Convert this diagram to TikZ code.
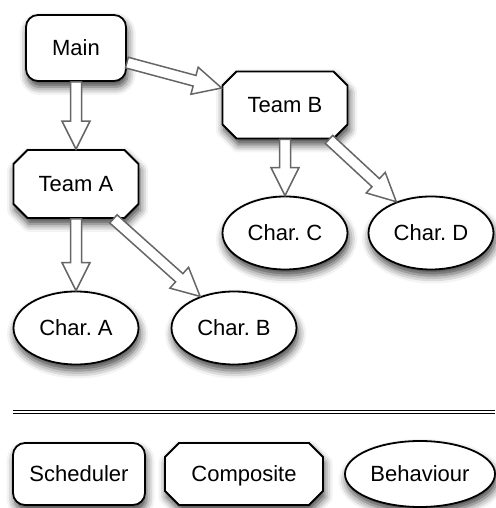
\documentclass[tikz,border=0pt]{standalone}
\usepackage{fontspec}
\setmainfont{Liberation Sans}
\frenchspacing
\usetikzlibrary{positioning, calc, shapes.misc, shapes.geometric, shadows.blur}
\tikzset{
	every node/.style={font=\fontsize{11}{13}\selectfont, draw, line width=0.9pt, fill=white,
		text height=8pt, text depth=0.5pt,
		blur shadow={shadow xshift=0.8pt, shadow yshift=-3pt, shadow blur radius=4pt, shadow opacity=75}},
	sched/.style={rectangle, rounded corners=6pt}, % scheduler nodes
	comp/.style={chamfered rectangle, chamfered rectangle xsep=3.5pt, chamfered rectangle ysep=3.5pt}, % composite nodes
	behav/.style={ellipse, inner sep=0pt, minimum width=62.5pt, minimum height=36.5pt}, % behaviour nodes
	node distance=70pt, % overridden where the gap differs
	% hollow block arrow between two border points
	hollow/.style={draw=black!60, line width=0.75pt, fill=white,
		to path={
			($(\tikztotarget)!14pt!(\tikztostart)$) coordinate (hb)
			($(\tikztostart)!2.75pt!90:(\tikztotarget)$)
			-- ($(hb)!2.75pt!90:(\tikztotarget)$)
			-- ($(hb)!7pt!90:(\tikztotarget)$)
			-- (\tikztotarget)
			-- ($(hb)!7pt!-90:(\tikztotarget)$)
			-- ($(hb)!2.75pt!-90:(\tikztotarget)$)
			-- ($(\tikztostart)!2.75pt!-90:(\tikztotarget)$)
			-- cycle}},
}
\begin{document}
\begin{tikzpicture}[x=0.5pt, y=0.5pt]
		\useasboundingbox (0,0) rectangle (495,508);
		\node[sched, minimum width=50pt, minimum height=33pt] (main) at (76,460) {Main};
		\node[comp, minimum width=62.5pt, minimum height=34pt, below of=main, node distance=68pt] (teamA) {Team A};
		\node[comp, minimum width=62.5pt, minimum height=33.5pt] (teamB) at (285,403) {Team B};
		\node[behav, below of=teamA, node distance=72pt] (charA) {Char. A};
		\node[behav, right of=charA, node distance=79pt] (charB) {Char. B};
		\node[behav, below of=teamB, node distance=64pt] (charC) {Char. C};
		\node[behav, right of=charC, node distance=73pt] (charD) {Char. D};
		
		% key
		\coordinate (keyL) at (13,96);
		\coordinate (keyR) at (495,96);
		\draw[double, double distance=0.8pt, line width=0.8pt] (keyL) -- (keyR);
		\node[sched, minimum width=66pt, minimum height=31pt] (sched) at (79,34) {Scheduler};
		\node[comp, minimum width=79pt, minimum height=31pt, right of=sched, node distance=82.5pt] (comp) {Composite};
		\node[behav, minimum width=75pt, minimum height=33pt, right of=comp, node distance=88pt] (behav) {Behaviour};
		
		\path (main.south) edge[hollow] (teamA.north)
			  (main.-16) edge[hollow] (teamB.165)
			  %
			  (teamA.south) edge[hollow] (charA.north)
			  (teamA.-43) edge[hollow] (charB.137)
			  %
			  (teamB.south) edge[hollow] (charC.north)
			  (teamB.-38) edge[hollow] (charD.138)
		;
	\end{tikzpicture}
\end{document}
